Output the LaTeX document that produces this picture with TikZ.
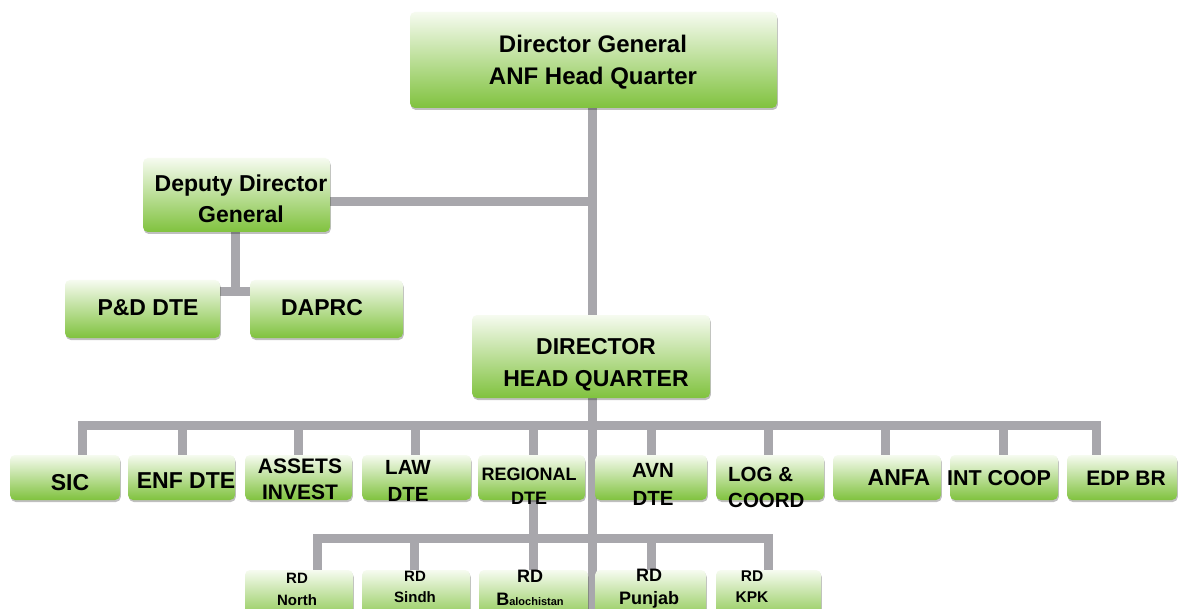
\documentclass[tikz,border=0pt]{standalone}
\usepackage{fontspec}
\setmainfont{Liberation Sans}
\usetikzlibrary{shadows}
\pgfdeclarelayer{background}
\pgfsetlayers{background,main}
\definecolor{gtop}{RGB}{246,251,240}
\definecolor{gmid}{RGB}{190,224,150}
\definecolor{gbot}{RGB}{128,194,62}
\definecolor{conncol}{RGB}{168,167,172}
\tikzset{
  box/.style={rectangle, rounded corners=5pt, inner sep=0pt, draw=none,
    top color=gtop, middle color=gmid, bottom color=gbot,
    drop shadow={shadow xshift=0.8pt, shadow yshift=-2pt, opacity=0.25, fill=black}},
  conn/.style={draw=conncol, line width=9pt, line cap=rect, line join=miter},
  fs/.style 2 args={font=\bfseries\fontsize{#1}{#2}\selectfont, align=center, inner sep=0pt, text=black},
}
\newcommand\obox[5]{\node[box, minimum width={#3-#2}, minimum height={#5-#4}] (#1) at ({(#2+#3)/2},{(#4+#5)/2}) {};}
\begin{document}
\begin{tikzpicture}[x=1pt,y=-1pt]
\useasboundingbox (0,0) rectangle (1182,609);
% boxes
\obox{dg}{410}{777}{12}{108}
\obox{ddg}{143}{330}{158}{232}
\obox{pd}{65}{220}{280}{338}
\obox{daprc}{250}{403}{280}{338}
\obox{dhq}{472}{710}{315}{398}
\obox{sic}{10}{120}{455}{500}
\obox{enf}{128}{235}{455}{500}
\obox{assets}{245}{352}{455}{500}
\obox{law}{362}{471}{455}{500}
\obox{reg}{478}{585}{455}{500}
\obox{avn}{595}{707}{455}{500}
\obox{log}{716}{824}{455}{500}
\obox{anfa}{833}{941}{455}{500}
\obox{intc}{950}{1058}{455}{500}
\obox{edp}{1067}{1177}{455}{500}
\obox{rdn}{245}{353}{570}{625}
\obox{rds}{362}{470}{570}{625}
\obox{rdb}{479}{588}{570}{625}
\obox{rdp}{595}{706}{570}{625}
\obox{rdk}{716}{821}{570}{625}
% texts
\node[fs={24}{32}] (dgt) at (593,62) {Director General\\ANF Head Quarter};
\node[fs={23}{31}] (ddgt) at (241,199) {Deputy Director\\General};
\node[fs={23}{28}] (pdt) at (148,308) {P\&D DTE};
\node[fs={23}{28}] (daprct) at (322,308) {DAPRC};
\node[fs={23}{32}] (dhqt) at (596,365) {DIRECTOR\\HEAD QUARTER};
\node[fs={23}{28}] (sict) at (70,483) {SIC};
\node[fs={23}{28}] (enft) at (186,481) {ENF DTE};
\node[fs={21}{26}] (assetst) at (300,479) {ASSETS\\INVEST};
\node[fs={20.5}{27}] (lawt) at (408,481) {LAW\\DTE};
\node[fs={18}{24}] (regt) at (529,486) {REGIONAL\\DTE};
\node[fs={20.5}{28}] (avnt) at (653,484) {AVN\\DTE};
\node[fs={20.5}{26}, align=left, anchor=west] (logt) at (728,487) {LOG \&\\COORD};
\node[fs={23}{28}] (anfat) at (899,478) {ANFA};
\node[fs={21.5}{28}] (intct) at (999,478) {INT COOP};
\node[fs={21}{28}] (edpt) at (1126,478) {EDP BR};
\node[fs={15}{22}] (rdnt) at (297,589) {RD\\North};
\node[fs={15}{21}] (rdst) at (415,587) {RD\\Sindh};
\node[fs={18}{23}] (rdbt) at (530,588) {RD\\B{\fontsize{11}{13}\selectfont alochistan}};
\node[fs={18}{23}] (rdpt) at (649,589) {RD\\Punjab};
\node[fs={15.5}{21}] (rdkt) at (752,587) {RD\\KPK};
% connector coordinates
\coordinate (bot) at (592,612);
\coordinate (j1) at (235,292);
\coordinate (d1) at (82,425);
\coordinate (d2) at (182,425);
\coordinate (d3) at (298,425);
\coordinate (d4) at (415,425);
\coordinate (d5) at (533,425);
\coordinate (d6) at (651,425);
\coordinate (d7) at (768,425);
\coordinate (d8) at (885,425);
\coordinate (d9) at (1003,425);
\coordinate (d10) at (1096,425);
\coordinate (r1) at (317,538);
\coordinate (r2) at (414,538);
\coordinate (r3) at (533,538);
\coordinate (r4) at (651,538);
\coordinate (r5) at (768,538);
\begin{pgfonlayer}{background}
\fill[white] (0,0) rectangle (1182,609);
\draw[conn, line cap=butt] (dg.south -| bot) -- (bot);
\draw[conn, line cap=butt] ([yshift=-7pt]ddg.east) -- ([yshift=-7pt]ddg.east -| bot);
\draw[conn, line cap=butt] (ddg.south -| j1) -- (j1);
\draw[conn, line cap=butt] (j1 -| pd.east) -- (j1 -| daprc.west);
\draw[conn] (d1) -- (d10);
\foreach \d/\b in {d1/sic,d2/enf,d3/assets,d4/law,d6/avn,d7/log,d8/anfa,d9/intc,d10/edp}
  \draw[conn, line cap=butt] (\d) -- (\d |- \b.north);
\draw[conn, line cap=butt] (d5) -- (r3);
\draw[conn] (r1) -- (r5);
\foreach \r/\b in {r1/rdn,r2/rds,r3/rdb,r4/rdp,r5/rdk}
  \draw[conn, line cap=butt] (\r) -- (\r |- \b.north);
\end{pgfonlayer}
\end{tikzpicture}
\end{document}
